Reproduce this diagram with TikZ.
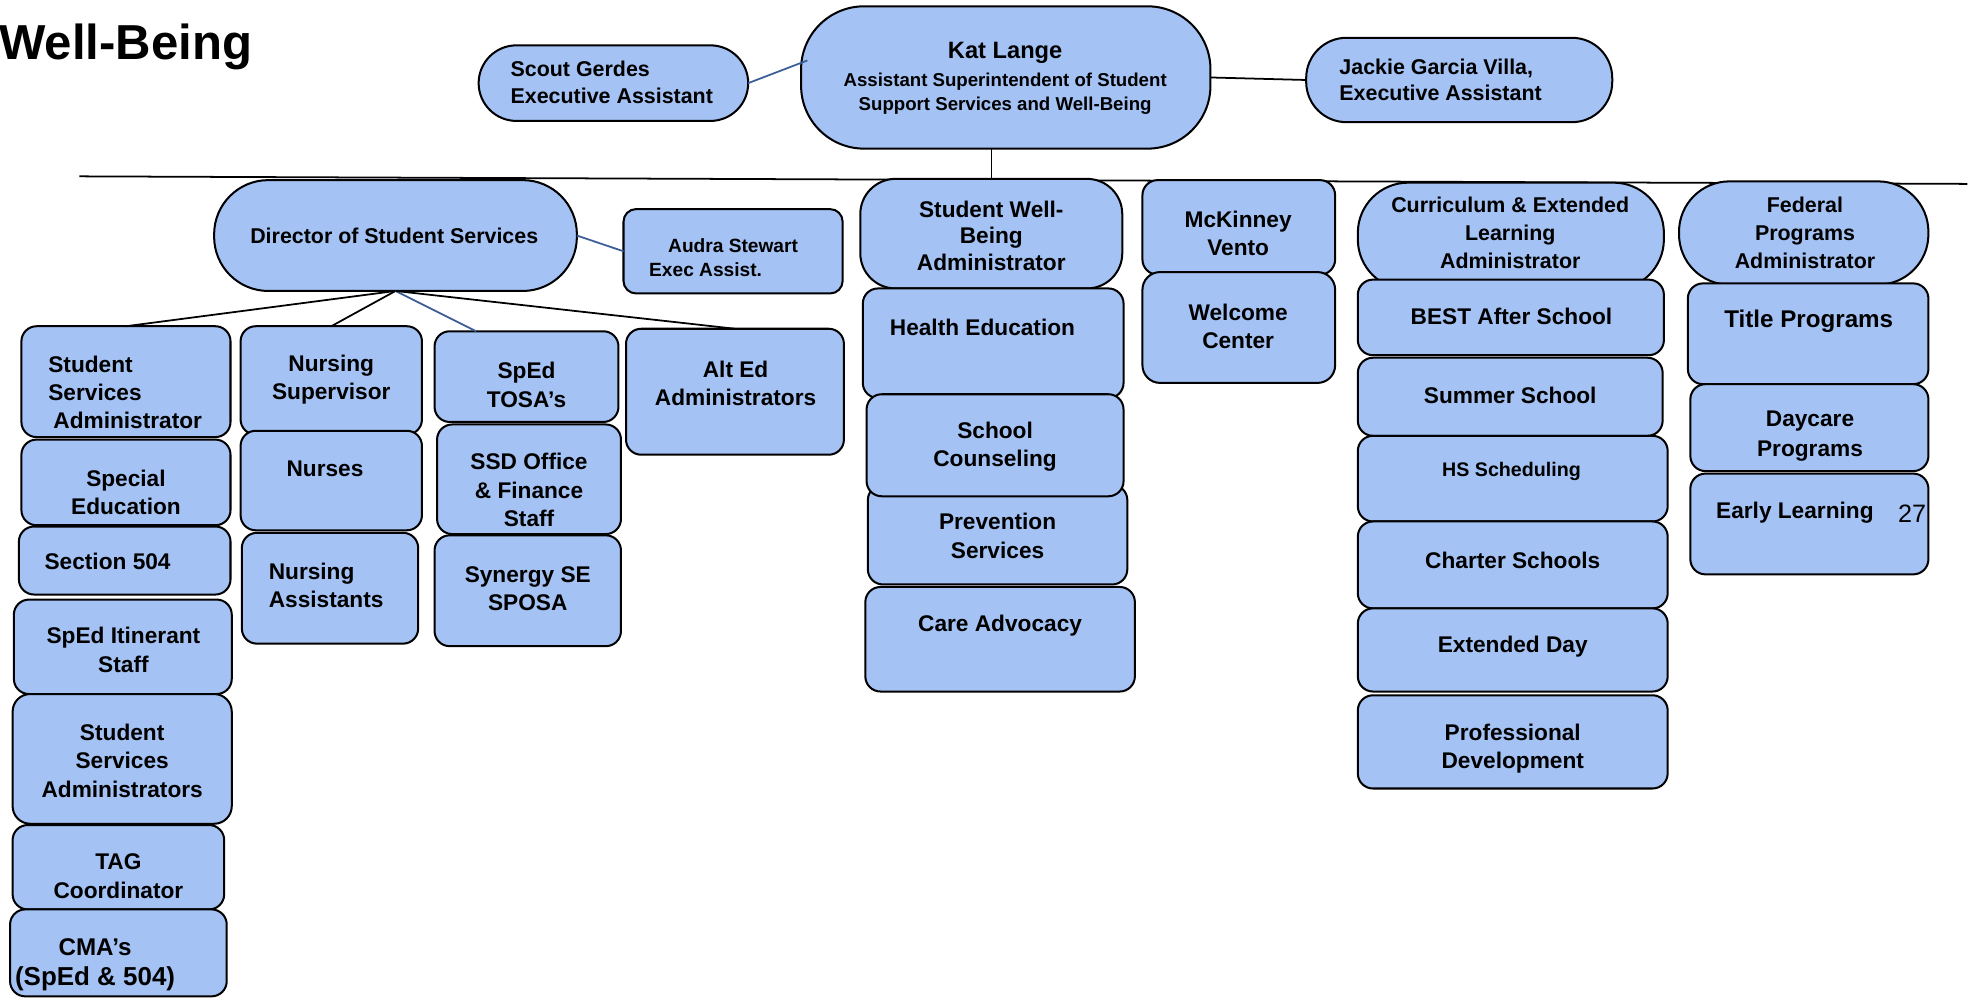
\documentclass[tikz,border=0pt]{standalone}
\usepackage{fontspec}
\setmainfont{Liberation Sans}
\definecolor{boxfill}{HTML}{A4C2F4}
\definecolor{linkblue}{HTML}{3B5E99}
\tikzset{
  orgbox/.style={draw=black, line width=0.8pt, fill=boxfill, inner sep=0pt, outer sep=0pt},
  lbl/.style={font=\bfseries\fontsize{9}{11.25}\selectfont, align=center, inner sep=0pt},
  lblleft/.style={lbl, align=left, anchor=west},
  link/.style={draw=black, line width=0.7pt},
  bluelink/.style={draw=linkblue, line width=0.7pt},
}
\newcommand\orgbox[6]{\node[orgbox, rounded corners=#6, minimum width={(#4-#2)*0.5pt}, minimum height={(#5-#3)*0.5pt}] (#1) at ({(#2+#4)/2},{(#3+#5)/2}) {};}
\begin{document}
\begin{tikzpicture}[x=0.5pt,y=-0.5pt]
\useasboundingbox (0,0) rectangle (1568,793);
% title
\node[font=\bfseries\fontsize{19.5}{23}\selectfont, anchor=base west, inner sep=0pt] (title) at (-1,47) {Well-Being};
% main horizontal line
\coordinate (hl-l) at (63,140);
\coordinate (hl-r) at (1562,146);
\draw[link] (hl-l) -- (hl-r);
% top row
\orgbox{scout}{380}{36}{594}{96}{15pt}
\orgbox{kat}{636}{5}{961}{118}{25pt}
\orgbox{jackie}{1037}{30}{1280}{97}{16pt}
% director group
\orgbox{dir}{170}{143}{458}{231}{21.5pt}
\orgbox{audra}{495}{166}{669}{233}{5pt}
\orgbox{ssa}{17}{259}{183}{347}{6pt}
\orgbox{sped}{17}{349}{183}{417}{6pt}
\orgbox{sfive}{15}{418}{183}{472}{6pt}
\orgbox{itin}{11}{476}{184}{551}{6pt}
\orgbox{ssas}{10}{551}{184}{654}{7pt}
\orgbox{tag}{10}{655}{178}{722}{6pt}
\orgbox{cma}{8}{722}{180}{791}{6pt}
\orgbox{nsup}{191}{259}{335}{345}{6pt}
\orgbox{nurses}{191}{342}{335}{421}{6pt}
\orgbox{nasst}{192}{423}{332}{511}{6pt}
\orgbox{tosa}{345}{263}{491}{335}{6pt}
\orgbox{ssd}{347}{337}{493}{424}{6pt}
\orgbox{synergy}{345}{425}{493}{513}{6pt}
\orgbox{alted}{497}{261}{670}{361}{6pt}
% well-being column
\orgbox{swb}{683}{142}{891}{229}{14pt}
\orgbox{health}{685}{229}{892}{316}{6pt}
\orgbox{prev}{689}{385}{895}{464}{6pt}
\orgbox{school}{688}{313}{892}{394}{6pt}
\orgbox{care}{687}{466}{901}{549}{6pt}
% McKinney column
\orgbox{mck}{907}{143}{1060}{218}{6pt}
\orgbox{welcome}{907}{216}{1060}{304}{7pt}
% curriculum column
\orgbox{curr}{1078}{145}{1321}{230}{20pt}
\orgbox{best}{1078}{222}{1321}{282}{6pt}
\orgbox{summer}{1078}{284}{1320}{346}{6pt}
\orgbox{hs}{1078}{346}{1324}{414}{6pt}
\orgbox{charter}{1078}{414}{1324}{483}{6pt}
\orgbox{ext}{1078}{483}{1324}{549}{6pt}
\orgbox{prof}{1078}{552}{1324}{626}{6pt}
% federal column
\orgbox{fed}{1333}{144}{1531}{226}{20pt}
\orgbox{title}{1340}{225}{1531}{305}{6pt}
\orgbox{daycare}{1342}{305}{1531}{374}{6pt}
\orgbox{early}{1342}{376}{1531}{456}{6pt}
% connectors
\draw[bluelink] (scout.east) -- ([shift={(2.5pt,6.75pt)}]kat.west);
\draw[link] (kat.east) -- (jackie.west);
\coordinate (katdrop) at (787,141);
\draw[link, line width=0.5pt] (kat.south -| katdrop) -- (katdrop);
\draw[bluelink] (dir.east) -- (audra.west);
\draw[link] (dir.south) -- (ssa.north);
\draw[link] (dir.south) -- (nsup.north);
\draw[bluelink] (dir.south) -- ([xshift=16.5pt]tosa.north west);
\draw[link] (dir.south) -- (alted.north);
% labels
\node[lblleft, font=\bfseries\fontsize{8.5}{10.5}\selectfont] (scout-t) at (405,65.5) {Scout Gerdes\\Executive Assistant};
\node[lbl, font=\bfseries\fontsize{9.4}{11}\selectfont] (kat-n) at (798,42) {Kat Lange};
\node[lbl, font=\bfseries\fontsize{7.4}{9.5}\selectfont] (kat-t) at (798,74.5) {Assistant Superintendent of Student\\Support Services and Well-Being};
\node[lblleft, font=\bfseries\fontsize{8.5}{10.5}\selectfont] (jackie-t) at (1063,63.5) {Jackie Garcia Villa,\\Executive Assistant};
\node[lbl, font=\bfseries\fontsize{8.5}{10.5}\selectfont] (dir-t) at (313,187) {Director of Student Services};
\node[lbl, font=\bfseries\fontsize{7.6}{9.5}\selectfont] (audra-t1) at (582,195) {Audra Stewart};
\node[lblleft, font=\bfseries\fontsize{7.6}{9.5}\selectfont] (audra-t2) at (515,214) {Exec Assist.};
\node[lblleft] (ssa-t) at (38,311.5) {Student\\Services\\\hspace{2pt}Administrator};
\node[lbl] (sped-t) at (100,391) {Special\\Education};
\node[lblleft] (sfive-t) at (35,446) {Section 504};
\node[lbl] (itin-t) at (98,516) {SpEd Itinerant\\Staff};
\node[lbl] (ssas-t) at (97,604) {Student\\Services\\Administrators};
\node[lbl] (tag-t) at (94,695.5) {TAG\\Coordinator};
\node[lbl, font=\bfseries\fontsize{9.6}{12}\selectfont] (cma-t) at (75.5,766) {CMA’s\\{\fontsize{10.3}{12}\selectfont(SpEd \& 504)}};
\node[lbl] (nsup-t) at (263,301.5) {Nursing\\Supervisor};
\node[lbl] (nurses-t) at (258,372) {Nurses};
\node[lblleft] (nasst-t) at (213,465) {Nursing\\Assistants};
\node[lbl] (tosa-t) at (418,305.5) {SpEd\\TOSA’s};
\node[lbl] (ssd-t) at (420,389) {SSD Office\\\& Finance\\Staff};
\node[lbl] (synergy-t) at (419,467.5) {Synergy SE\\SPOSA};
\node[lbl] (alted-t) at (584,304.5) {Alt Ed\\Administrators};
\node[lbl, font=\bfseries\fontsize{9}{10.5}\selectfont] (swb-t) at (787,187) {Student Well-\\Being\\Administrator};
\node[lbl] (health-t) at (780,260) {Health Education};
\node[lbl] (school-t) at (790,354.5) {School\\Counseling};
\node[lbl] (prev-t) at (792,425.5) {Prevention\\Services};
\node[lbl] (care-t) at (794,497) {Care Advocacy};
\node[lbl] (mck-t) at (983,185.5) {McKinney\\Vento};
\node[lbl] (welcome-t) at (983,259) {Welcome\\Center};
\node[lbl, font=\bfseries\fontsize{8.5}{11}\selectfont] (curr-t) at (1199,185) {Curriculum \& Extended\\Learning\\Administrator};
\node[lbl] (best-t) at (1200,251) {BEST After School};
\node[lbl] (summer-t) at (1199,314) {Summer School};
\node[lbl, font=\bfseries\fontsize{7.8}{9.5}\selectfont] (hs-t) at (1200,374) {HS Scheduling};
\node[lbl] (charter-t) at (1201,445) {Charter Schools};
\node[lbl] (ext-t) at (1201,513) {Extended Day};
\node[lbl] (prof-t) at (1201,594.5) {Professional\\Development};
\node[lbl, font=\bfseries\fontsize{8.5}{11}\selectfont] (fed-t) at (1433,185) {Federal\\Programs\\Administrator};
\node[lbl, font=\bfseries\fontsize{9.6}{12}\selectfont] (title-t) at (1436,255) {Title Programs};
\node[lbl, font=\bfseries\fontsize{9}{12}\selectfont] (daycare-t) at (1437,346) {Daycare\\Programs};
\node[lbl] (early-t) at (1425,407) {Early Learning};
\node[lbl, font=\fontsize{10}{12}\selectfont] (num-t) at (1518,408) {27};
\end{tikzpicture}
\end{document}
